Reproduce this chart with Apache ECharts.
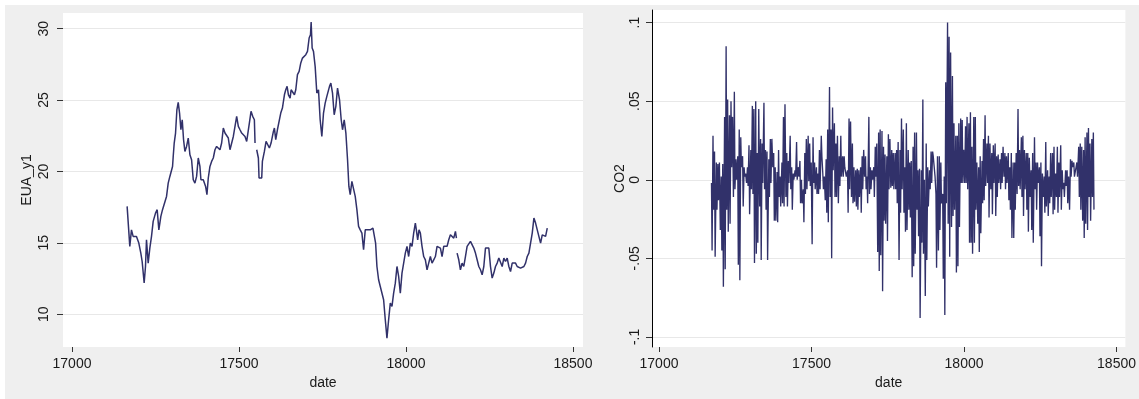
<!DOCTYPE html>
<html><head><meta charset="utf-8">
<script src="https://cdn.jsdelivr.net/npm/echarts@6/dist/echarts.min.js"></script>
<style>html,body{margin:0;padding:0;background:#fff}#c{width:1139px;height:399px}</style>
</head><body><div id="c"></div>
<script>
const xTicks = [17000, 17500, 18000, 18500];
const euaYTicks = [10, 15, 20, 25, 30];
const co2YTicks = [-0.1, -0.05, 0, 0.05, 0.1];
const co2YTickLabels = ['-.1', '-.05', '0', '.05', '.1'];

const euaDates = [17165,17173,17178,17183,17193,17200,17206,17210,17216,17220,17223,17228,17233,17238,17243,17250,17255,17260,17266,17271,17276,17283,17288,17293,17298,17301,17303,17306,17310,17314,17318,17322,17326,17330,17334,17338,17343,17348,17353,17358,17363,17368,17373,17378,17383,17386,17393,17400,17404,17408,17413,17418,17423,17428,17433,17438,17443,17448,17453,17458,17463,17468,17473,17478,17483,17488,17493,17498,17503,17508,17513,17518,17523,17528,17531,17536,17541,17546,17548,17550,17553,17558,17560,17568,17570,17576,17581,17586,17591,17596,17603,17606,17610,17615,17620,17625,17630,17636,17640,17644,17648,17653,17656,17661,17666,17670,17675,17680,17685,17690,17695,17700,17705,17710,17714,17716,17719,17723,17728,17733,17738,17743,17748,17753,17758,17763,17771,17775,17780,17785,17790,17795,17801,17806,17810,17815,17820,17825,17829,17833,17838,17843,17848,17853,17858,17863,17868,17873,17878,17883,17893,17901,17905,17909,17913,17918,17923,17928,17933,17938,17943,17948,17953,17958,17963,17968,17973,17978,17983,17988,17993,17998,18003,18008,18013,18018,18023,18028,18031,18035,18039,18043,18048,18053,18058,18063,18068,18073,18078,18083,18088,18093,18098,18103,18108,18113,18118,18123,18128,18133,18138,18143,18148,18151,18152,18153,18158,18163,18168,18173,18178,18183,18188,18193,18198,18203,18208,18213,18218,18223,18228,18233,18238,18243,18248,18253,18258,18263,18268,18273,18278,18283,18288,18293,18298,18303,18308,18313,18318,18323,18328,18333,18338,18343,18348,18353,18358,18363,18368,18373,18378,18383,18388,18393,18398,18403,18408,18413,18418,18423];
const euaValues = [17.55,14.75,15.91,15.45,15.45,14.98,14.28,13.69,12.18,13.34,15.21,13.58,14.63,15.45,16.5,17.08,17.32,15.91,16.85,17.32,17.43,18.25,19.18,19.65,19.65,20.35,21.05,21.99,22.69,24.32,24.84,24.09,22.92,23.62,22.22,21.4,21.75,22.34,21.17,20.82,19.42,19.18,19.65,20.94,20.35,19.42,19.42,18.95,18.37,19.54,20.35,20.7,20.94,21.52,21.75,21.64,21.52,21.99,23.04,22.69,22.81,22.34,21.52,21.64,22.45,23.16,23.86,23.16,22.92,22.69,22.81,22.45,22.1,21.99,23.39,24.21,23.86,23.62,21.99,null,21.52,20.94,19.54,19.54,20.7,21.4,22.1,21.99,21.64,21.99,22.8,23.04,22.22,22.92,22.8,24.09,24.44,25.37,25.72,25.96,25.37,25.14,25.72,25.61,25.37,25.72,26.78,27.01,27.6,27.94,28.06,28.18,28.41,29.35,29.58,30.47,28.65,28.41,27.36,25.49,25.72,23.62,22.45,24.09,24.79,25.26,25.96,26.19,25.49,23.97,24.56,25.84,25.02,23.62,22.92,23.62,22.69,20.82,18.95,18.37,19.3,19.18,18.25,17.32,16.15,15.91,15.68,14.51,15.91,15.8,15.91,16.03,15.91,14.98,13.34,12.41,11.94,11.94,11.01,9.61,8.32,9.61,10.77,10.54,11.47,12.17,13.34,12.64,11.47,12.88,13.58,14.28,14.75,14.04,14.98,14.75,15.68,16.38,15.91,15.21,15.91,15.68,14.75,14.04,13.81,13.11,13.58,14.04,13.58,13.81,14.04,14.75,14.86,14.63,14.04,14.75,14.63,14.75,15.21,15.56,15.68,15.33,15.8,15.33,null,14.28,13.81,13.11,13.58,13.34,14.04,14.75,14.63,15.1,14.98,14.63,14.28,13.81,13.34,13.11,12.76,13.34,14.63,14.51,14.63,13.34,12.53,12.88,13.34,13.58,13.93,13.81,13.34,13.93,13.69,13.93,13.34,12.99,13.58,13.46,13.58,13.34,13.46,13.23,13.11,13.34,13.58,14.04,14.28,14.98,15.68,16.73,16.38,15.91,16.03,14.98,15.56,15.68,15.45,16.03];

const co2Dates = [
17172,17174,17177,17179,17182,17184,17188,17190,17193,17195,17198,17201,17204,17206,17209,17211,17215,17217,17220,17222,
17225,17227,17231,17233,17236,17238,17241,17244,17247,17249,17252,17254,17258,17260,17263,17265,17268,17270,17274,17276,
17279,17281,17284,17287,17290,17292,17295,17297,17301,17303,17306,17308,17311,17313,17317,17319,17322,17324,17327,17330,
17333,17335,17338,17340,17344,17346,17349,17351,17354,17356,17360,17362,17365,17367,17370,17373,17376,17378,17381,17383,
17387,17389,17392,17394,17397,17399,17403,17405,17408,17410,17413,17416,17419,17421,17424,17426,17430,17432,17435,17437,
17440,17442,17446,17448,17451,17453,17456,17459,17462,17464,17467,17469,17473,17475,17478,17480,17483,17485,17489,17491,
17494,17496,17499,17502,17505,17507,17510,17512,17516,17518,17521,17523,17526,17528,17532,17534,17537,17539,17542,17545,
17548,17550,17553,17555,17559,17561,17564,17566,17569,17571,17575,17577,17580,17582,17585,17588,17591,17593,17596,17598,
17602,17604,17607,17609,17612,17614,17618,17620,17623,17625,17628,17631,17634,17636,17639,17641,17645,17647,17650,17652,
17655,17657,17661,17663,17666,17668,17671,17674,17677,17679,17682,17684,17688,17690,17693,17695,17698,17700,17704,17706,
17709,17711,17714,17717,17720,17722,17725,17727,17731,17733,17736,17738,17741,17743,17747,17749,17752,17754,17757,17760,
17763,17765,17768,17770,17774,17776,
17779,17781,17784,17787,17790,17792,17795,17797,17801,17803,17806,17808,17811,17813,17817,17819,17822,17824,17827,17830,
17833,17835,17838,17840,17844,17846,17849,17851,17854,17856,17860,17862,17865,17867,17870,17873,17876,17878,17881,17883,
17887,17889,17892,17894,17897,17899,17903,17905,17908,17910,17913,17916,17919,17921,17924,17926,17930,17932,17935,17937,
17940,17942,17946,17948,17951,17953,17956,17959,17962,17964,17967,17969,17973,17975,17978,17980,17983,17985,17989,17991,
17994,17996,17999,18002,18005,18007,18010,18012,18016,18018,18021,18023,18026,18028,18032,18034,18037,18039,18042,18045,
18048,18050,18053,18055,18059,18061,18064,18066,18069,18071,18075,18077,18080,18082,18085,18088,18091,18093,18096,18098,
18102,18104,18107,18109,18112,18114,18118,18120,18123,18125,18128,18131,18134,18136,18139,18141,18145,18147,18150,18152,
18155,18157,18161,18163,18166,18168,18171,18174,18177,18179,18182,18184,18188,18190,18193,18195,18198,18200,18204,18206,
18209,18211,18214,18217,18220,18222,18225,18227,18231,18233,18236,18238,18241,18243,18247,18249,18252,18254,18257,18260,
18263,18265,18268,18270,18274,18276,18279,18281,18284,18286,18290,18292,18295,18297,18300,18303,18306,18308,18311,18313,
18317,18319,18322,18324,18327,18329,18333,18335,18338,18340,18343,18346,18349,18351,18354,18356,18360,18362,18365,18367,
18370,18372,18376,18378,18381,18383,18386,18389,18392,18394,18397,18399,18403,18405,18408,18410,18413,18415,18419,18421,
18424,18426];
const co2Values = [
-.002,-.045,.028,-.019,.018,-.049,.011,-.019,.010,-.013,.011,-.032,.002,-.045,.010,-.068,.040,-.057,.085,-.019,
.051,-.033,.041,-.028,.050,.008,.040,-.011,.056,-.006,.013,.000,.015,-.054,.032,-.064,.027,.008,.015,-.017,
.008,.002,.004,-.002,.008,-.004,.022,-.022,.019,-.006,.047,-.009,.045,-.053,.050,-.047,.017,-.040,.045,-.017,
.026,-.051,.023,-.002,.049,-.006,.019,-.019,.018,-.051,.013,-.011,.026,-.002,.026,.008,.017,-.026,.008,-.026,
.005,-.027,.019,-.011,.002,-.017,.011,-.015,.040,-.017,.048,-.011,.017,-.017,.012,-.002,.028,-.006,.008,-.019,
.004,.000,.006,.002,.024,.000,.008,.002,.012,-.015,.000,-.015,-.006,-.027,.017,-.009,.026,-.006,.028,-.001,
.023,-.004,.011,-.041,.027,-.002,.011,-.006,.008,-.009,.004,-.009,.019,-.006,.028,.015,.004,-.006,.002,-.013,
.013,-.021,.032,-.027,.059,-.011,.032,-.050,.046,.006,.036,-.011,.023,-.011,.028,-.015,.015,-.004,.028,.002,
.015,.002,.015,.008,.008,.002,.006,-.021,.039,-.006,.037,-.011,.023,-.015,.008,-.014,.006,-.017,.007,-.019,
.006,-.011,.008,-.021,.015,-.006,.019,.002,.015,-.006,.002,-.015,.040,-.009,.008,-.006,.006,.000,.008,-.011,
.021,.002,.023,-.046,.030,-.058,.032,-.048,.031,-.071,.021,-.026,.016,-.028,.015,-.039,.029,-.006,.026,-.005,
.019,-.004,.017,-.006,.017,-.006,
.019,-.015,.024,-.051,.019,-.021,.039,-.006,.032,-.021,.008,-.033,.036,-.032,.019,-.019,.011,-.024,.012,-.062,
.021,-.055,.030,-.047,.030,-.019,.006,-.036,.007,-.088,.006,-.040,.051,-.047,.000,-.074,.023,-.051,.008,-.017,
.006,-.006,.018,-.002,.018,.015,.015,.002,-.009,-.056,.015,-.045,.015,-.032,.011,-.015,-.009,-.063,.002,-.086,
.062,-.015,.100,-.028,.091,-.049,.081,-.030,.066,-.023,.036,-.019,.028,-.059,.028,-.055,.036,-.030,.039,-.002,
.038,-.002,.019,-.002,.034,-.002,.040,-.006,.036,-.040,.043,-.040,.021,-.047,.040,-.040,.040,-.019,.011,-.028,
.008,-.046,.015,-.034,.012,-.015,.026,-.013,.041,-.004,.023,-.002,.028,-.024,.023,-.006,.017,-.022,.022,-.002,
.023,-.023,.015,-.011,.016,-.002,.013,-.006,.017,-.002,.021,.002,.017,-.006,.015,-.002,.017,-.013,.008,-.019,
.017,-.037,.011,-.037,.011,-.019,.017,-.009,.045,-.004,.019,-.006,.027,-.011,.028,-.023,.019,-.006,.017,-.019,
.017,-.033,.014,-.011,.006,-.032,.017,-.040,.027,-.006,.011,-.019,.011,-.002,.008,-.036,.011,-.055,.004,-.011,
.002,-.021,.024,-.017,.006,-.023,.002,-.015,.017,-.011,.017,-.022,.021,-.019,.004,-.011,.021,-.021,.011,-.011,
.022,-.019,.006,-.006,-.002,-.011,.006,-.004,.006,-.015,.002,-.019,.013,.002,.012,.008,.011,.002,.003,.001,
.011,.002,.021,-.011,.023,-.019,.021,-.026,.019,-.037,.027,-.028,.030,-.032,.033,-.011,.023,-.026,.026,-.011,
.030,-.019];

const FONT = '"Liberation Sans", Arial, Helvetica, sans-serif';
const TXT = '#1a1a1a';
const LINE = '#31316a';

function pairs(xs, ys) { return xs.map((x, i) => [x, ys[i]]); }
function co2Fmt(v) {
  const i = co2YTicks.findIndex(t => Math.abs(t - v) < 1e-9);
  return i >= 0 ? co2YTickLabels[i] : '';
}

function xAxisCfg(grid, min, max) {
  return {
    gridIndex: grid, type: 'value', min: min, max: max,
    name: 'date', nameLocation: 'middle', nameGap: 23,
    nameTextStyle: { fontFamily: FONT, fontSize: 14, color: TXT },
    axisLine: { show: false, onZero: false },
    axisTick: { show: true, customValues: xTicks, length: 5, lineStyle: { color: '#333', width: 1 } },
    axisLabel: { customValues: xTicks, formatter: v => String(v), fontFamily: FONT, fontSize: 14, color: TXT, margin: 10 },
    splitLine: { show: false }
  };
}

const chart = echarts.init(document.getElementById('c'), null, { renderer: 'canvas' });
chart.setOption({
  animation: false,
  backgroundColor: '#efefef',
  graphic: [
    { type: 'rect', shape: { x: 0, y: 0, width: 1139, height: 5 }, style: { fill: '#fff' }, silent: true },
    { type: 'rect', shape: { x: 0, y: 0, width: 5, height: 399 }, style: { fill: '#fff' }, silent: true }
  ],
  grid: [
    { left: 63, top: 13, width: 520, height: 334, show: true, backgroundColor: '#fff', borderWidth: 0, borderColor: 'transparent' },
    { left: 652, top: 10, width: 481, height: 337, show: true, backgroundColor: '#fff', borderWidth: 0, borderColor: 'transparent' }
  ],
  xAxis: [ xAxisCfg(0, 16973, 18530), xAxisCfg(1, 16977, 18529) ],
  yAxis: [
    {
      gridIndex: 0, type: 'value', min: 7.7, max: 31.1,
      name: 'EUA_y1', nameLocation: 'middle', nameRotate: 90, nameGap: 29,
      nameTextStyle: { fontFamily: FONT, fontSize: 14, color: TXT },
      axisLine: { show: false, onZero: false },
      axisTick: { show: true, customValues: euaYTicks, length: 6, lineStyle: { color: '#333', width: 1 } },
      axisLabel: { customValues: euaYTicks, rotate: 90, formatter: v => String(v), fontFamily: FONT, fontSize: 14, color: TXT, margin: 12 },
      splitLine: { show: true, lineStyle: { color: '#e8e8e8', width: 1 } }
    },
    {
      gridIndex: 1, type: 'value', min: -0.1064, max: 0.108,
      name: 'CO2', nameLocation: 'middle', nameRotate: 90, nameGap: 24,
      nameTextStyle: { fontFamily: FONT, fontSize: 14, color: TXT },
      axisLine: { show: true, onZero: false, lineStyle: { color: '#000', width: 1 } },
      axisTick: { show: true, customValues: co2YTicks, length: 6, lineStyle: { color: '#333', width: 1 } },
      axisLabel: { customValues: co2YTicks, rotate: 90, formatter: co2Fmt, fontFamily: FONT, fontSize: 14, color: TXT, margin: 10 },
      splitLine: { show: true, lineStyle: { color: '#e8e8e8', width: 1 } }
    }
  ],
  series: [
    {
      type: 'line', xAxisIndex: 0, yAxisIndex: 0, data: pairs(euaDates, euaValues),
      showSymbol: false, symbol: 'none', connectNulls: false,
      lineStyle: { color: LINE, width: 1.5 }
    },
    {
      type: 'line', xAxisIndex: 1, yAxisIndex: 1, data: pairs(co2Dates, co2Values),
      showSymbol: false, symbol: 'none',
      lineStyle: { color: LINE, width: 1.35 }
    }
  ]
});
</script>
</body></html>
